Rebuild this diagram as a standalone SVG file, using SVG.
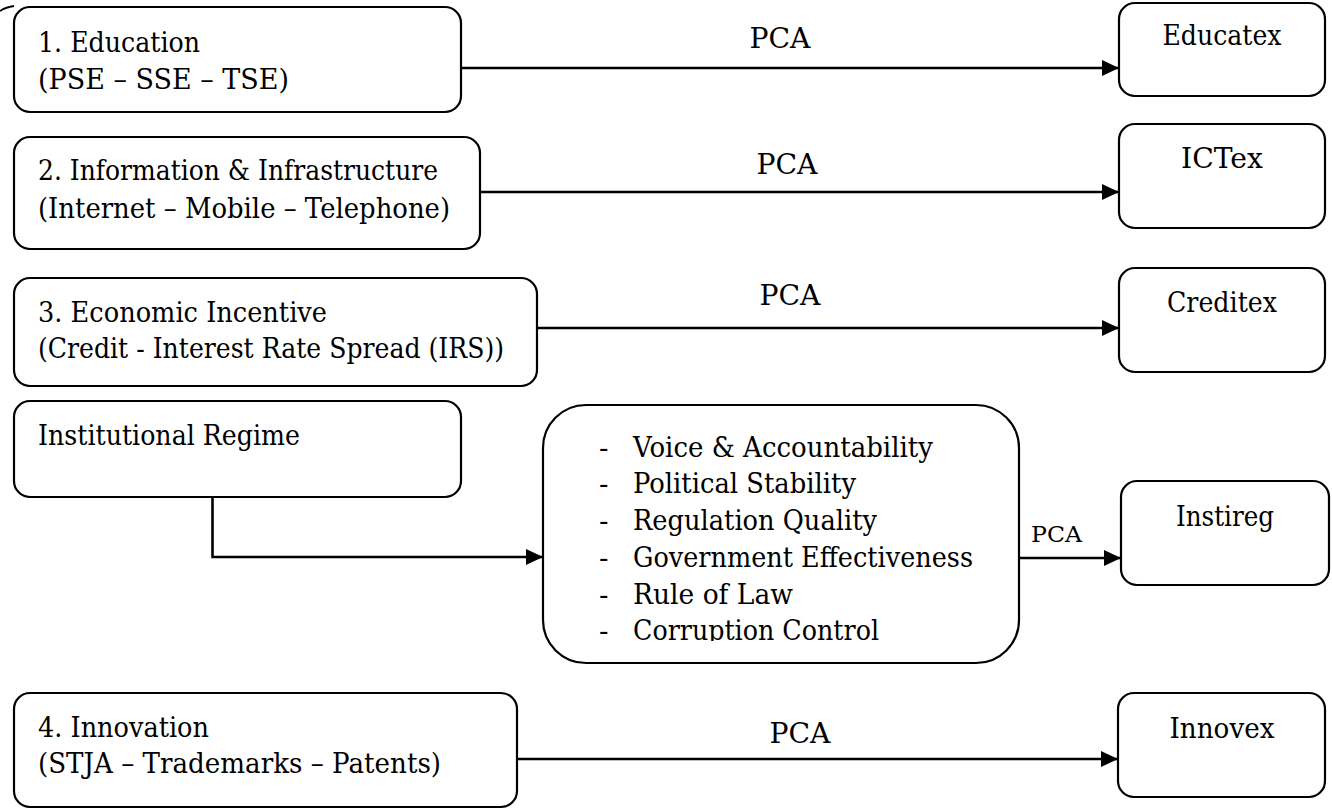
<svg xmlns="http://www.w3.org/2000/svg" width="1332" height="812" viewBox="0 0 1332 812">
<style>
  .box { fill: #ffffff; stroke: #000000; stroke-width: 2.2; }
  text { font-family: 'DejaVu Serif', 'Liberation Serif', serif; font-size: 28px; fill: #000000; }
  .tc { text-anchor: middle; }
  .small { font-size: 23px; }
  .conn { fill: none; stroke: #000000; stroke-width: 2.6; }
</style>
<defs>
  <marker id="arrow" markerUnits="userSpaceOnUse" markerWidth="18" markerHeight="16" refX="17" refY="8" orient="auto">
    <path d="M0,0 L17,8 L0,16 Z" fill="#000000"/>
  </marker>
  <clipPath id="midclip">
    <rect x="540" y="400" width="480" height="241"/>
  </clipPath>
</defs>
<rect width="1332" height="812" fill="#ffffff"/>

<path d="M0,11 Q6,7 14,6" fill="none" stroke="#000" stroke-width="1.8"/>

<g id="connectors">
  <line class="conn" x1="461" y1="68" x2="1119" y2="68" marker-end="url(#arrow)"/>
  <line class="conn" x1="480" y1="192" x2="1119" y2="192" marker-end="url(#arrow)"/>
  <line class="conn" x1="537" y1="328" x2="1119" y2="328" marker-end="url(#arrow)"/>
  <polyline class="conn" points="212.5,497 212.5,557 543,557" marker-end="url(#arrow)"/>
  <line class="conn" x1="1019" y1="558" x2="1121" y2="558" marker-end="url(#arrow)"/>
  <line class="conn" x1="517" y1="759" x2="1118" y2="759" marker-end="url(#arrow)"/>
  <text class="tc" x="780" y="48" textLength="61" lengthAdjust="spacingAndGlyphs">PCA</text>
  <text class="tc" x="787" y="174" textLength="61" lengthAdjust="spacingAndGlyphs">PCA</text>
  <text class="tc" x="790" y="305" textLength="61" lengthAdjust="spacingAndGlyphs">PCA</text>
  <text class="small" x="1031" y="542" textLength="51" lengthAdjust="spacingAndGlyphs">PCA</text>
  <text class="tc" x="800" y="743" textLength="61" lengthAdjust="spacingAndGlyphs">PCA</text>
</g>

<g id="education">
  <rect class="box" x="14" y="7" width="447" height="105" rx="16"/>
  <text x="38" y="52" textLength="162" lengthAdjust="spacingAndGlyphs">1. Education</text>
  <text x="38" y="89" textLength="251" lengthAdjust="spacingAndGlyphs">(PSE – SSE – TSE)</text>
</g>

<g id="information">
  <rect class="box" x="14" y="137" width="466" height="112" rx="16"/>
  <text x="38" y="180" textLength="400" lengthAdjust="spacingAndGlyphs">2. Information &amp; Infrastructure</text>
  <text x="38" y="218" textLength="412" lengthAdjust="spacingAndGlyphs">(Internet – Mobile – Telephone)</text>
</g>

<g id="economic">
  <rect class="box" x="14" y="278" width="523" height="108" rx="16"/>
  <text x="38" y="322" textLength="289" lengthAdjust="spacingAndGlyphs">3. Economic Incentive</text>
  <text x="38" y="358" textLength="466" lengthAdjust="spacingAndGlyphs">(Credit - Interest Rate Spread (IRS))</text>
</g>

<g id="institutional">
  <rect class="box" x="14" y="401" width="447" height="96" rx="16"/>
  <text x="38" y="445" textLength="262" lengthAdjust="spacingAndGlyphs">Institutional Regime</text>
</g>

<g id="indicators">
  <rect class="box" x="543" y="405" width="476" height="258" rx="43"/>
  <g clip-path="url(#midclip)">
    <text x="599" y="457">-</text><text x="633" y="457" textLength="300" lengthAdjust="spacingAndGlyphs">Voice &amp; Accountability</text>
    <text x="599" y="493">-</text><text x="633" y="493" textLength="223" lengthAdjust="spacingAndGlyphs">Political Stability</text>
    <text x="599" y="530">-</text><text x="633" y="530" textLength="244" lengthAdjust="spacingAndGlyphs">Regulation Quality</text>
    <text x="599" y="567">-</text><text x="633" y="567" textLength="340" lengthAdjust="spacingAndGlyphs">Government Effectiveness</text>
    <text x="599" y="604">-</text><text x="633" y="604" textLength="160" lengthAdjust="spacingAndGlyphs">Rule of Law</text>
    <text x="599" y="640">-</text><text x="633" y="640" textLength="246" lengthAdjust="spacingAndGlyphs">Corruption Control</text>
  </g>
</g>

<g id="innovation">
  <rect class="box" x="14" y="693" width="503" height="114" rx="16"/>
  <text x="38" y="737" textLength="171" lengthAdjust="spacingAndGlyphs">4. Innovation</text>
  <text x="38" y="773" textLength="403" lengthAdjust="spacingAndGlyphs">(STJA – Trademarks – Patents)</text>
</g>

<g id="educatex">
  <rect class="box" x="1119" y="3" width="206" height="93" rx="16"/>
  <text class="tc" x="1222" y="45" textLength="119" lengthAdjust="spacingAndGlyphs">Educatex</text>
</g>

<g id="ictex">
  <rect class="box" x="1119" y="124" width="206" height="104" rx="16"/>
  <text class="tc" x="1222" y="168" textLength="82" lengthAdjust="spacingAndGlyphs">ICTex</text>
</g>

<g id="creditex">
  <rect class="box" x="1119" y="268" width="206" height="104" rx="16"/>
  <text class="tc" x="1222" y="312" textLength="110" lengthAdjust="spacingAndGlyphs">Creditex</text>
</g>

<g id="instireg">
  <rect class="box" x="1121" y="481" width="208" height="104" rx="16"/>
  <text class="tc" x="1225" y="526" textLength="98" lengthAdjust="spacingAndGlyphs">Instireg</text>
</g>

<g id="innovex">
  <rect class="box" x="1118" y="693" width="207" height="104" rx="16"/>
  <text class="tc" x="1222" y="738" textLength="105" lengthAdjust="spacingAndGlyphs">Innovex</text>
</g>
</svg>
